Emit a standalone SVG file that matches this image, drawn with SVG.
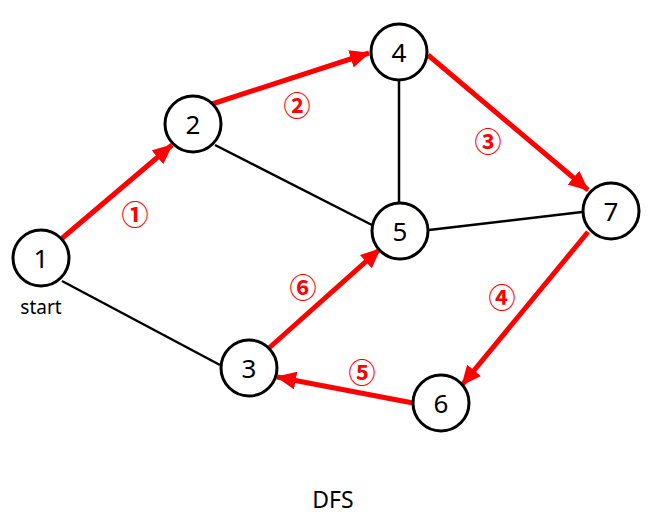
<svg xmlns="http://www.w3.org/2000/svg" width="652" height="520" viewBox="0 0 652 520">
<style>
.node circle{fill:#fff;stroke:#000;stroke-width:3}
.node text{font-family:"Noto Sans","Noto Sans CJK KR",sans-serif;font-size:26px;fill:#000;text-anchor:middle;dominant-baseline:central}
.edge{stroke:#000;stroke-width:2.5;fill:none}
.path{stroke:#ff0000;stroke-width:5;fill:none;marker-end:url(#ah)}
.step{font-family:"Noto Sans CJK KR","Noto Sans",sans-serif;font-size:27px;font-weight:bold;fill:#ff0000;text-anchor:middle;dominant-baseline:central}
.lbl{font-family:"Noto Sans","Noto Sans CJK KR",sans-serif;fill:#000;text-anchor:middle}
</style>
<defs>
<marker id="ah" markerUnits="userSpaceOnUse" markerWidth="20" markerHeight="18" refX="19" refY="9" orient="auto">
<path d="M0,0 L20,9 L0,18 Z" fill="#ff0000"/>
</marker>
</defs>
<rect width="652" height="520" fill="#fff"/>
<g id="connectors">
<line class="edge" x1="62" y1="281" x2="220" y2="365"/>
<line class="edge" x1="215" y1="145" x2="372" y2="225"/>
<line class="edge" x1="399" y1="81" x2="399" y2="202"/>
<line class="edge" x1="429" y1="230" x2="582" y2="212"/>
<line class="path" x1="60" y1="240" x2="172" y2="145"/>
<line class="path" x1="212" y1="104" x2="369" y2="53"/>
<line class="path" x1="428" y1="55" x2="588" y2="190"/>
<line class="path" x1="588" y1="232" x2="462" y2="385"/>
<line class="path" x1="413" y1="403" x2="277" y2="377"/>
<line class="path" x1="269" y1="348" x2="380" y2="249"/>
</g>
<g id="step-labels">
<text class="step" x="135" y="213">①</text>
<text class="step" x="297" y="104">②</text>
<text class="step" x="488" y="140">③</text>
<text class="step" x="502" y="296">④</text>
<text class="step" x="362" y="371">⑤</text>
<text class="step" x="303" y="286">⑥</text>
</g>
<g id="node1" class="node"><circle cx="41" cy="258" r="28"/><text x="41" y="258">1</text></g>
<g id="node2" class="node"><circle cx="193" cy="124" r="28"/><text x="193" y="124">2</text></g>
<g id="node3" class="node"><circle cx="249" cy="368" r="28"/><text x="249" y="368">3</text></g>
<g id="node4" class="node"><circle cx="399" cy="52" r="28"/><text x="399" y="52">4</text></g>
<g id="node5" class="node"><circle cx="400" cy="231" r="28"/><text x="400" y="231">5</text></g>
<g id="node6" class="node"><circle cx="441" cy="403" r="28"/><text x="441" y="403">6</text></g>
<g id="node7" class="node"><circle cx="611" cy="211" r="28"/><text x="611" y="211">7</text></g>
<text class="lbl" x="41" y="314" font-size="19">start</text>
<text class="lbl" x="333" y="508" font-size="23">DFS</text>
</svg>
